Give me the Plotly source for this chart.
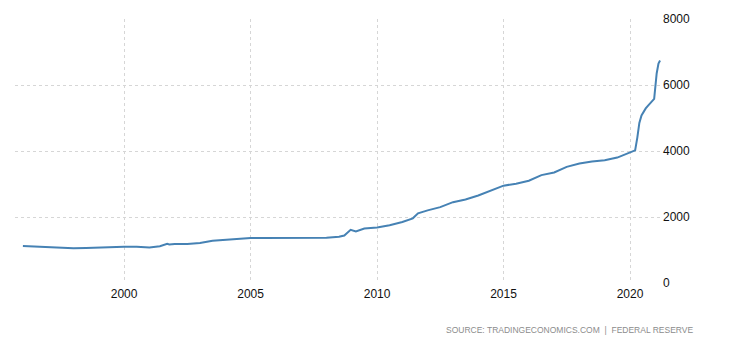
import plotly.graph_objects as go

# Money supply level, billions of USD
dates = [
    "1996-01-01", "1996-07-01", "1997-01-01", "1997-07-01", "1998-01-01", "1998-07-01",
    "1999-01-01", "1999-07-01", "2000-01-01", "2000-07-01", "2001-01-01", "2001-06-01",
    "2001-09-15", "2001-10-15", "2002-01-01", "2002-07-01", "2003-01-01", "2003-07-01",
    "2004-01-01", "2004-07-01", "2005-01-01", "2005-07-01", "2006-01-01", "2006-07-01",
    "2007-01-01", "2007-07-01", "2008-01-01", "2008-07-01", "2008-09-15", "2008-12-15",
    "2009-03-01", "2009-07-01", "2010-01-01", "2010-07-01", "2011-01-01", "2011-06-01",
    "2011-08-15", "2012-01-01", "2012-07-01", "2013-01-01", "2013-07-01", "2014-01-01",
    "2014-07-01", "2015-01-01", "2015-07-01", "2016-01-01", "2016-07-01", "2017-01-01",
    "2017-07-01", "2018-01-01", "2018-07-01", "2019-01-01", "2019-07-01", "2020-01-01",
    "2020-03-15", "2020-04-15", "2020-05-15", "2020-06-15", "2020-07-15", "2020-08-15",
    "2020-09-15", "2020-10-15", "2020-11-15", "2020-12-15", "2021-01-20", "2021-02-15",
    "2021-03-10",
]
values = [
    1121, 1100, 1075, 1060, 1055, 1060,
    1075, 1085, 1100, 1095, 1075, 1115,
    1190, 1170, 1182, 1185, 1210, 1280,
    1310, 1335, 1360, 1365, 1370, 1370,
    1365, 1365, 1375, 1400, 1440, 1610,
    1560, 1650, 1680, 1750, 1850, 1960,
    2110, 2200, 2300, 2450, 2530, 2650,
    2790, 2950, 3010, 3100, 3270, 3350,
    3520, 3620, 3680, 3720, 3800, 3950,
    4020, 4400, 4850, 5080, 5200, 5290,
    5370, 5430, 5520, 5580, 6350, 6650,
    6740,
]

x_ticks = ["2000-01-01", "2005-01-01", "2010-01-01", "2015-01-01", "2020-01-01"]
x_tick_labels = ["2000", "2005", "2010", "2015", "2020"]
y_ticks = [0, 2000, 4000, 6000, 8000]

label_font = dict(family="Liberation Sans, Arial", size=12, color="#111111")
grid_color = "#d6d6d6"

fig = go.Figure()
fig.add_trace(go.Scatter(
    x=dates, y=values, mode="lines",
    line=dict(color="#4682b4", width=2),
    hoverinfo="skip",
))

fig.update_layout(
    width=730, height=340,
    margin=dict(l=15, r=68, t=19, b=57),
    paper_bgcolor="white", plot_bgcolor="white",
    showlegend=False,
    xaxis=dict(
        type="date",
        range=["1995-09-09", "2021-04-07"],
        tickvals=x_ticks, ticktext=x_tick_labels,
        showgrid=True, gridcolor=grid_color, griddash="dot", gridwidth=1,
        zeroline=False, showline=False, ticks="",
        tickfont=label_font, ticklabelstandoff=2,
    ),
    yaxis=dict(
        side="right",
        range=[0, 8000],
        tickvals=y_ticks,
        showgrid=True, gridcolor=grid_color, griddash="dot", gridwidth=1,
        zeroline=False, showline=False, ticks="",
        tickfont=label_font,
    ),
    annotations=[dict(
        text="SOURCE: TRADINGECONOMICS.COM  |  FEDERAL RESERVE",
        xref="paper", yref="paper", x=1.052, y=-0.15,
        xanchor="right", yanchor="top", showarrow=False,
        font=dict(family="Liberation Sans, Arial", size=8.5, color="#8c8c8c"),
    )],
)

fig.write_html("out.html")
